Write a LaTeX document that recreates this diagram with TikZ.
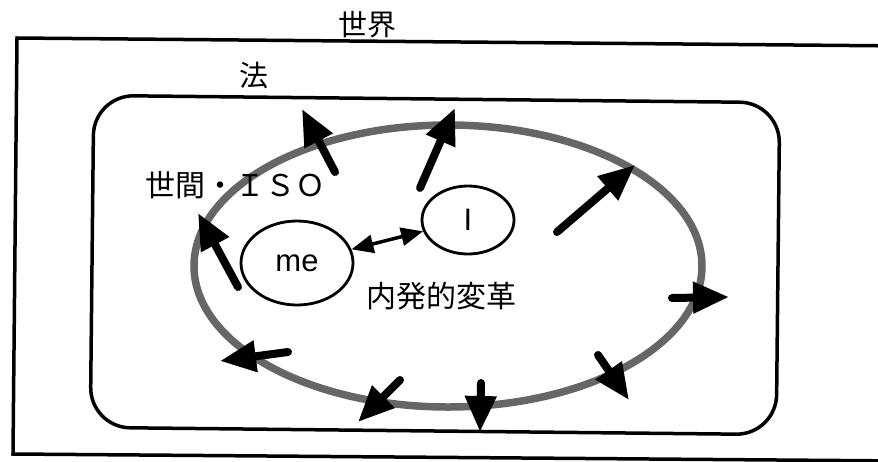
\documentclass[tikz,border=0pt]{standalone}
\usepackage{fontspec}
\setmainfont{Liberation Sans}
\newfontfamily\cjk{Noto Sans CJK JP}
\usetikzlibrary{arrows.meta,shapes.geometric}
\begin{document}
\begin{tikzpicture}[x=1pt,y=-1pt,
  frame/.style={draw=black,line width=3.5pt},
  ring/.style={draw=black!60,line width=7.5pt,ellipse,inner sep=0pt,outer sep=0pt},
  bubble/.style={draw=black,line width=2.8pt,ellipse,inner sep=0pt,font=\fontsize{31}{31}\selectfont},
  lbl/.style={inner sep=0pt,font=\cjk\fontsize{29}{29}\selectfont},
  bigarrow/.style={line width=8pt,line cap=round,-{Triangle[length=36pt,width=30pt]}},
  dblarrow/.style={line width=3.5pt,{Triangle[length=22pt,width=18pt]}-{Triangle[length=22pt,width=18pt]}}
]
\useasboundingbox (0,0) rectangle (878,461);
% outer frame (world)
\draw[frame] (17,38) -- (905,46) -- (905,461) -- (13,454) -- cycle;
% rounded frame (law)
\draw[frame,rounded corners=40pt,rotate around={-0.6:(435,265)}] (92,99) rectangle (778,431);
% ring
\node[ring,minimum width=508pt,minimum height=282pt] (ring) at (448,266) {};
% texts
\node[lbl] (sekai) at (367,25) {世界};
\node[lbl] (hou) at (254,76) {法};
\node[lbl,font=\cjk\fontsize{30}{30}\selectfont] (seken) at (235,185) {世間・ＩＳＯ};
\node[lbl,font=\cjk\fontsize{30}{30}\selectfont] (naihatsu) at (441,296) {内発的変革};
% bubbles
\node[bubble,minimum width=112pt,minimum height=84pt] (me) at (297,263) {me};
\node[bubble,minimum width=92pt,minimum height=68pt] (I) at (468,220) {I};
\draw[dblarrow] (me) -- (I);
% outward arrows
\coordinate (t1) at (238,287); \coordinate (h1) at (198,213);
\coordinate (t2) at (335,172); \coordinate (h2) at (302,109);
\coordinate (t3) at (420,188); \coordinate (h3) at (455,108);
\coordinate (t4) at (557,232); \coordinate (h4) at (635,165);
\coordinate (t5) at (672,298); \coordinate (h5) at (729,297);
\coordinate (t6) at (598,355); \coordinate (h6) at (629,400);
\coordinate (t7) at (481,383); \coordinate (h7) at (480,432);
\coordinate (t8) at (400,380); \coordinate (h8) at (358,422);
\coordinate (t9) at (288,352); \coordinate (h9) at (220,361);
\foreach \i in {1,...,9} { \draw[bigarrow] (t\i) -- (h\i); }
\end{tikzpicture}
\end{document}
